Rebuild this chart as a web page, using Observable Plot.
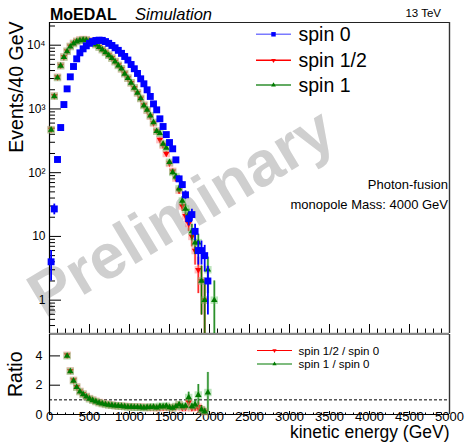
<!DOCTYPE html>
<html><head><meta charset="utf-8">
<script src="https://cdn.jsdelivr.net/npm/d3@7"></script>
<script src="https://cdn.jsdelivr.net/npm/@observablehq/plot@0.6"></script>
<style>
html,body{margin:0;padding:0;background:#fff;}
#chart{position:relative;width:466px;height:445px;overflow:hidden;font-family:"Liberation Sans",Arial,sans-serif;}
#chart svg{position:absolute;left:0;}
</style></head><body><div id="chart"></div>
<script>
// ---------- data ----------
const binCenter = [20,60,100,140,180,220,260,300,340,380,420,460,500,540,580,620,660,700,740,780,820,860,900,940,980,1020,1060,1100,1140,1180,1220,1260,1300,1340,1380,1420,1460,1500,1540,1580,1620,1660,1700,1740,1780,1820,1860,1900,1940,1980,2020,2060];
const spin0 = [4,27,161,511,1172,2065,3190,4630,6110,7590,8770,9780,10720,11400,11850,12000,11900,11400,10700,9900,9100,8300,7450,6650,5850,4980,4270,3600,2970,2480,1995,1570,1200,968,700,530,396,297,237,159,80,65,45,19,22,12,6,6,5,2,0,0];
const spinHalf = [475,1600,3150,4800,6550,8050,9600,10700,11560,12100,12300,12200,11700,11000,10250,9400,8550,7750,7000,6300,5550,4850,4250,3600,3040,2570,2140,1790,1460,1150,950,770,600,450,330,270,200,140,105,82,53,30,21,16,10,6,3,2,1,0,0,0];
const spin1 = [470,1580,3100,4750,6500,8000,9500,10600,11400,11900,12100,12000,11500,10900,10200,9300,8500,7700,6950,6250,5500,4800,4270,3560,3040,2570,2140,1790,1460,1130,968,787,618,447,415,283,245,146,101,87,56,36,27,22,12,8,8,2,1,3,0,1];
const ratioBins = [220,260,300,340,380,420,460,500,540,580,620,660,700,740,780,820,860,900,940,980,1020,1060,1100,1140,1180,1220,1260,1300,1340,1380,1420,1460,1500,1540,1580,1620,1660,1700,1740,1780,1820,1860,1900,1940,1980];
const ratioHalf = [4.05,2.98,2.34,1.88,1.58,1.40,1.23,1.09,0.99,0.90,0.82,0.76,0.71,0.67,0.64,0.61,0.59,0.57,0.55,0.54,0.53,0.52,0.51,0.50,0.49,0.48,0.48,0.48,0.47,0.47,0.50,0.50,0.48,0.46,0.52,0.66,0.46,0.47,0.84,0.45,0.50,0.50,0.33,0.20,null];
const ratioOne = [4.00,2.95,2.30,1.86,1.56,1.38,1.22,1.07,0.97,0.88,0.80,0.74,0.69,0.65,0.63,0.60,0.58,0.57,0.54,0.52,0.52,0.50,0.50,0.49,0.47,0.49,0.50,0.52,0.47,0.56,0.53,0.58,0.49,0.45,0.55,0.68,0.55,0.58,1.16,0.55,0.67,1.33,0.33,0.20,1.50];
const xMajorTicks = [0,500,1000,1500,2000,2500,3000,3500,4000,4500,5000];
const yMajorTicks = [1,10,100,1000,10000];
const yMajorLabels = ["1","10","10\u00B2","10\u00B3","10\u2074"];
const ratioTicks = [0,2,4];
const seriesNames = ["spin 0","spin 1/2","spin 1"];
const ratioNames = ["spin 1/2 / spin 0","spin 1 / spin 0"];

// ---------- setup ----------
const FONT = "'Liberation Sans', Arial, Helvetica, sans-serif";
const xDomain = [0, 5000];
const yDomain = [0.3, 22700];
const rDomain = [0, 5.46];
const BLUE = "#0000ff", RED = "#ff0000", GREEN = "#007a00";
const s3 = Math.sqrt(3);
const triDown = {draw(ctx, size){ const y = -Math.sqrt(size/(s3*3)); ctx.moveTo(0,-y*2); ctx.lineTo(-s3*y, y); ctx.lineTo(s3*y, y); ctx.closePath(); }};

const xMinor = d3.range(0, 5001, 100).filter(v => v % 500 !== 0);
const yMinor = [];
for (const p of [0.1,1,10,100,1000,10000]) for (let m = 2; m <= 9; m++) { const v = m*p; if (v >= yDomain[0] && v <= yDomain[1]) yMinor.push(v); }

function countRows(vals){
  return binCenter.map((e,i)=>({e, n: vals[i]})).filter(d=>d.n>0)
    .map(d=>({...d, lo: Math.max(d.n - Math.sqrt(d.n), yDomain[0]), hi: d.n + Math.sqrt(d.n)}));
}
function ratioRows(vals, num){
  return ratioBins.map((e,i)=>({e, r: vals[i]})).filter(d=>d.r!=null).map(d=>{
    const k = binCenter.indexOf(d.e); const a = num[k], b = spin0[k];
    const err = (a>0 && b>0) ? d.r*Math.sqrt(1/a + 1/b) : 0;
    return {...d, lo: Math.max(d.r-err, 0), hi: Math.min(d.r+err, rDomain[1])};
  });
}
const r0 = countRows(spin0), rH = countRows(spinHalf), r1 = countRows(spin1);
const qH = ratioRows(ratioHalf, spinHalf), q1 = ratioRows(ratioOne, spin1);

function seriesMarks(rows, yk, lok, hik, color, halo, symbol, r, isBlue){
  const m = [];
  if (isBlue) {
    m.push(Plot.ruleX(rows, {x:"e", y1:lok, y2:hik, stroke: color, strokeWidth: 1.8}));
    m.push(Plot.dot(rows, {x:"e", y:yk, symbol, r, fill: color, stroke: "none"}));
  } else {
    m.push(Plot.ruleX(rows, {x:"e", y1:lok, y2:hik, stroke: color, strokeWidth: 2.4, strokeOpacity: 0.4}));
    m.push(Plot.ruleX(rows, {x:"e", y1:lok, y2:hik, stroke: color, strokeWidth: 0.9}));
    m.push(Plot.dot(rows, {x:"e", y:yk, symbol:"square", r: 4.2, fill: halo, fillOpacity: 0.45, stroke:"none"}));
    m.push(Plot.dot(rows, {x:"e", y:yk, symbol, r, fill: color, stroke: "none"}));
  }
  return m;
}

const main = Plot.plot({
  width: 466, height: 334,
  marginLeft: 49, marginRight: 17, marginTop: 22, marginBottom: 1,
  style: {background: "transparent", fontFamily: FONT, overflow: "visible"},
  x: {domain: xDomain, label: null},
  y: {type: "log", domain: yDomain, label: null},
  marks: [
    Plot.text(["Preliminary"], {text: d=>d, frameAnchor: "middle", dx: -68, dy: 35, rotate: -31, fontSize: 63, fontWeight: "bold", fill: "#cfcfcf"}),
    Plot.axisY(yMajorTicks, {anchor: "left", tickSize: -12, tickFormat: () => "", label: null}),
    Plot.axisY(yMinor, {anchor: "left", tickSize: -6, tickFormat: () => "", label: null}),
    Plot.text(yMajorTicks, {y: d => d, text: d => yMajorLabels[yMajorTicks.indexOf(d)], frameAnchor: "left", dx: -4, textAnchor: "end", fontSize: 12}),
    Plot.axisX(xMajorTicks, {anchor: "bottom", tickSize: -9, tickFormat: () => "", label: null}),
    Plot.axisX(xMinor, {anchor: "bottom", tickSize: -4.5, tickFormat: () => "", label: null}),
    Plot.ruleY([yDomain[1]], {stroke: "#222", strokeWidth: 1.2}),
    Plot.ruleX([xDomain[1]], {stroke: "#333", strokeWidth: 1.4}),
    Plot.ruleY([yDomain[0]], {stroke: "#888", strokeWidth: 1.6}),
    Plot.ruleX([xDomain[0]], {stroke: "#000", strokeWidth: 1.2}),
    Plot.text(["Events/40 GeV"], {text: d=>d, frameAnchor: "top-left", dx: -40, dy: -1, rotate: -90, textAnchor: "end", fontSize: 19.5}),
    ...seriesMarks(rH, "n", "lo", "hi", RED, "#ff7070", triDown, 2.4, false),
    ...seriesMarks(r1, "n", "lo", "hi", GREEN, "#6cc46c", "triangle", 2.4, false),
    ...seriesMarks(r0, "n", "lo", "hi", BLUE, null, "square", 3.9, true)
  ]
});
main.style.top = "0px";

const ratio = Plot.plot({
  width: 466, height: 115,
  marginLeft: 49, marginRight: 17, marginTop: 4, marginBottom: 31,
  style: {background: "transparent", fontFamily: FONT, overflow: "visible"},
  x: {domain: xDomain, label: null},
  y: {domain: rDomain, label: null},
  marks: [
    Plot.ruleY([1], {stroke: "#000", strokeDasharray: "3,2", strokeWidth: 1}),
    Plot.axisY(ratioTicks, {anchor: "left", tickSize: -11, tickFormat: () => "", label: null}),
    Plot.text(ratioTicks, {y: d => d, text: d => String(d), frameAnchor: "left", dx: -7, textAnchor: "end", fontSize: 12.5}),
    Plot.axisX(xMajorTicks, {anchor: "bottom", tickSize: -3, tickFormat: () => "", label: null}),
    Plot.axisX(xMinor, {anchor: "bottom", tickSize: -1.5, tickFormat: () => "", label: null}),
    Plot.text(xMajorTicks, {x: d => d, text: d => String(d), frameAnchor: "bottom", dy: 6, fontSize: 13}),
    Plot.ruleY([rDomain[1]], {stroke: "#888", strokeWidth: 1.2}),
    Plot.ruleX([xDomain[1]], {stroke: "#333", strokeWidth: 1.4}),
    Plot.ruleY([rDomain[0]], {stroke: "#000", strokeWidth: 1.2}),
    Plot.ruleX([xDomain[0]], {stroke: "#000", strokeWidth: 1.2}),
    Plot.text(["Ratio"], {text: d=>d, frameAnchor: "top-left", dx: -41.5, dy: 17, rotate: -90, textAnchor: "end", fontSize: 19.5}),
    Plot.text(["kinetic energy (GeV)"], {text: d=>d, frameAnchor: "bottom-right", dy: 23.8, textAnchor: "end", fontSize: 17.5}),
    ...seriesMarks(qH, "r", "lo", "hi", RED, "#ff7070", triDown, 2.4, false),
    ...seriesMarks(q1, "r", "lo", "hi", GREEN, "#6cc46c", "triangle", 2.4, false)
  ]
});
ratio.style.top = "330px";

const chart = document.getElementById("chart");
chart.appendChild(main);
chart.appendChild(ratio);

// ---------- overlay: header texts and legends ----------
const ov = d3.select(chart).append("svg").attr("width", 466).attr("height", 445)
  .style("top", "0px").style("pointer-events", "none").attr("font-family", FONT);
function txt(x, y, s, o = {}) {
  return ov.append("text").attr("x", x).attr("y", y).text(s)
    .attr("font-size", o.size || 12).attr("font-weight", o.weight || null)
    .attr("font-style", o.style || null).attr("text-anchor", o.anchor || "start").attr("fill", "#000");
}
txt(50, 20, "MoEDAL", {size: 16, weight: "bold"});
txt(135, 19.5, "Simulation", {size: 16.5, style: "italic"});
txt(441, 17, "13 TeV", {size: 11.5, anchor: "end"});
txt(448, 188.5, "Photon-fusion", {size: 13, anchor: "end"});
txt(448, 208.5, "monopole Mass: 4000 GeV", {size: 13, anchor: "end"});

const legColors = [["#7a7aff", BLUE], [RED, RED], ["#2f8f2f", GREEN]];
const legSyms = [d3.symbolSquare, triDown, d3.symbolTriangle];
const legSizes = [20, 10, 10];
const legY = [34.3, 60.3, 85];
seriesNames.forEach((name, i) => {
  ov.append("line").attr("x1", 256).attr("x2", 291).attr("y1", legY[i]).attr("y2", legY[i])
    .attr("stroke", legColors[i][0]).attr("stroke-width", 1.5);
  ov.append("path").attr("d", d3.symbol(legSyms[i], legSizes[i])()).attr("transform", `translate(273.5,${legY[i]})`).attr("fill", legColors[i][1]);
  txt(298.5, legY[i] + 6.8, name, {size: 19.5});
});
const rLegY = [350.5, 364];
const rLegCol = [RED, GREEN];
const rLegSym = [triDown, d3.symbolTriangle];
ratioNames.forEach((name, i) => {
  ov.append("line").attr("x1", 257).attr("x2", 292).attr("y1", rLegY[i]).attr("y2", rLegY[i])
    .attr("stroke", rLegCol[i]).attr("stroke-width", 1.2);
  ov.append("path").attr("d", d3.symbol(rLegSym[i], 8)()).attr("transform", `translate(274.5,${rLegY[i]})`).attr("fill", rLegCol[i]);
  txt(298.5, rLegY[i] + 4.1, name, {size: 11.5});
});
</script>
</body></html>
